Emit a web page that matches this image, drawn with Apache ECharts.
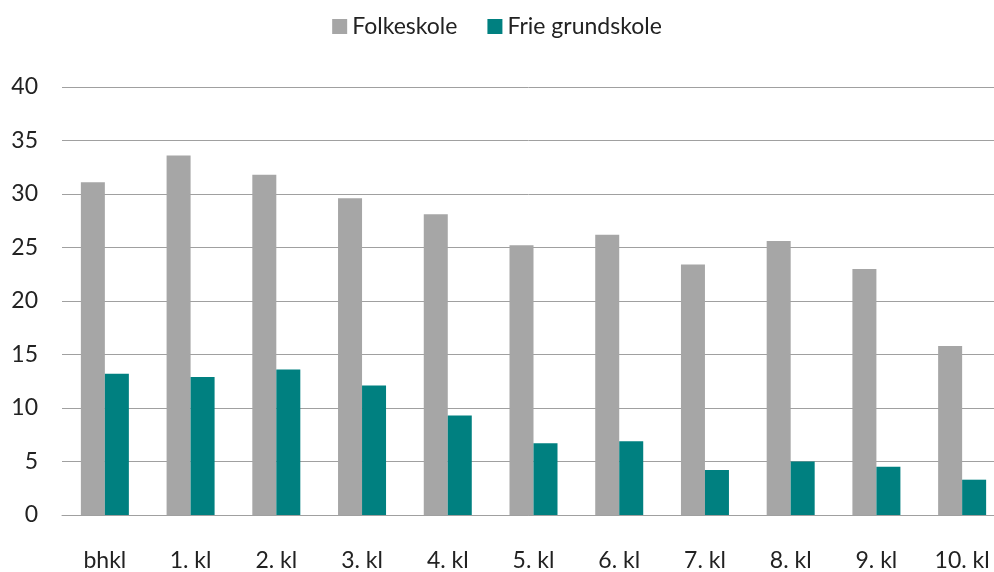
<!DOCTYPE html>
<html>
<head>
<meta charset="UTF-8"/>
<title>Folkeskole / Frie grundskole</title>
<script src="https://cdn.jsdelivr.net/npm/echarts@6/dist/echarts.min.js"></script>
<style>
  html, body { margin: 0; padding: 0; background: #fff; }
  #main { width: 994px; height: 572px; }
</style>
</head>
<body>
<div id="main"></div>
<script type="text/javascript">
var categories = ['bhkl', '1. kl', '2. kl', '3. kl', '4. kl', '5. kl', '6. kl', '7. kl', '8. kl', '9. kl', '10. kl'];
var folkeskole = [31.1, 33.6, 31.8, 29.6, 28.1, 25.2, 26.2, 23.4, 25.6, 23.0, 15.8];
var frieGrundskole = [13.2, 12.9, 13.6, 12.1, 9.3, 6.7, 6.9, 4.2, 5.0, 4.5, 3.3];
var seriesNames = ['Folkeskole', 'Frie grundskole'];

var font = 'Lato, "Open Sans", sans-serif';
var myChart = echarts.init(document.getElementById('main'));

var option = {
    animation: false,
    textStyle: { fontFamily: font },
    legend: {
        top: 10,
        left: 'center',
        icon: 'rect',
        itemWidth: 15,
        itemHeight: 15,
        itemGap: 30,
        textStyle: { fontSize: 23, color: '#222', fontFamily: font },
        data: seriesNames
    },
    // plot runs a little past the right edge of the picture, like the original
    grid: { left: 62, right: -11, top: 87, bottom: 57, outerBoundsMode: 'none', containLabel: false },
    xAxis: {
        type: 'category',
        data: categories,
        axisLine: { lineStyle: { color: '#a0a0a0', width: 1 } },
        axisTick: { show: false },
        axisLabel: { interval: 0, margin: 34, fontSize: 23, color: '#222', fontFamily: font }
    },
    yAxis: {
        type: 'value',
        min: 0,
        max: 40,
        interval: 5,
        axisLine: { show: false },
        axisTick: { show: false },
        axisLabel: { margin: 24, fontSize: 23, color: '#222', fontFamily: font },
        splitLine: { lineStyle: { color: '#a0a0a0', width: 1 } }
    },
    series: [
        {
            name: seriesNames[0],
            type: 'bar',
            data: folkeskole,
            barWidth: 24,
            barGap: '0%',
            itemStyle: { color: '#a6a6a6' }
        },
        {
            name: seriesNames[1],
            type: 'bar',
            data: frieGrundskole,
            barWidth: 24,
            barGap: '0%',
            itemStyle: { color: '#008080' }
        }
    ]
};

myChart.setOption(option);
</script>
</body>
</html>
